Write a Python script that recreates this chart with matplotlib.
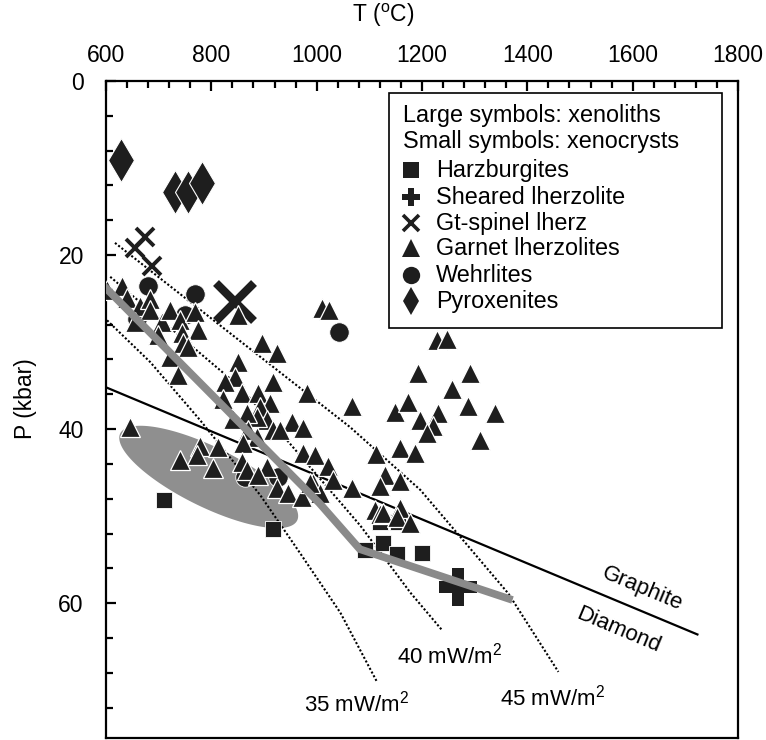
import numpy as np
import matplotlib
matplotlib.use('Agg')
import matplotlib.pyplot as plt
from matplotlib.patches import Rectangle

plt.rcParams['font.family'] = ['Liberation Sans', 'DejaVu Sans']
plt.rcParams['mathtext.fontset'] = 'custom'
plt.rcParams['mathtext.rm'] = 'Liberation Sans'
plt.rcParams['mathtext.it'] = 'Liberation Sans:italic'

# garnet lherzolites (T in C, P in kbar)
grt_T = [602, 630, 640, 665, 684, 684, 655, 706, 722, 741, 769, 775, 744, 746, 699, 756, 722, 737,
         851, 896, 925, 1010, 1024, 851, 845, 826, 917, 858, 822, 889, 912, 893, 982,
         953, 974, 906, 917, 931, 887, 868, 841, 870, 887, 860, 646, 779, 773, 813, 741,
         803, 858, 868, 906, 974, 997, 1022, 1067, 1149,
         1229, 1248, 1193, 1292, 1257, 1174, 1288, 1339, 1231, 1197, 1221, 1210, 1311, 1159, 1187, 1113,
         889, 925, 946, 972, 993, 1007, 1031, 1067, 1111, 1121, 1130, 1126, 1159, 1153, 1178, 1121, 1159, 988]
grt_P = [24.0, 23.5, 24.9, 25.8, 25.0, 26.3, 27.7, 27.7, 26.3, 27.5, 26.6, 28.6, 28.9, 30.1, 29.2, 30.6, 31.7, 33.8,
         26.9, 30.1, 31.3, 26.1, 26.3, 32.3, 34.0, 34.6, 34.6, 35.9, 36.5, 35.9, 37.0, 37.5, 35.9,
         39.2, 39.9, 39.0, 40.1, 40.1, 38.6, 38.1, 38.8, 40.1, 40.9, 41.6, 39.8, 41.9, 43.0, 42.1, 43.6,
         44.5, 43.8, 44.7, 44.4, 42.7, 43.0, 44.2, 37.3, 38.0,
         29.8, 29.6, 33.6, 33.5, 35.4, 36.9, 37.4, 38.2, 38.2, 38.9, 39.7, 40.5, 41.2, 42.2, 42.7, 42.9,
         45.3, 46.8, 47.4, 47.8, 46.2, 47.4, 45.8, 46.8, 49.3, 49.8, 45.3, 49.6, 49.1, 50.1, 50.8, 46.5, 46.0, 46.2]

harz_T = [710, 917, 1092, 1126, 1153, 1200, 1121, 1155]
harz_P = [48.1, 51.5, 53.9, 53.1, 54.3, 54.2, 50.7, 50.7]

wehr_T = [680, 769, 1043, 659, 750, 864, 927]
wehr_P = [23.5, 24.5, 28.8, 27.3, 26.9, 45.5, 45.5]

pyrox_T = [628, 731, 756, 782]
pyrox_P = [9.1, 12.7, 12.7, 11.7]

gtsp_small_T = [674, 655, 687]
gtsp_small_P = [17.9, 19.2, 21.3]
gtsp_large_T = [845]
gtsp_large_P = [25.4]

sheared_T = [1269]
sheared_P = [58.1]

# fitted geotherm (grey line)
fit_T = [600, 1005, 1082, 1365]
fit_P = [23.8, 48.5, 53.8, 59.5]

# graphite-diamond transition
gd_T = [600, 1723]
gd_P = [35.2, 63.6]

# model geotherms
g35_T = [602, 684, 779, 893, 969, 1045, 1115]
g35_P = [27.5, 32.3, 39.0, 47.6, 54.3, 61.1, 69.1]
g40_T = [608, 779, 855, 944, 1083, 1178, 1238]
g40_P = [22.5, 31.3, 35.2, 41.3, 51.1, 58.8, 63.1]
g45_T = [617, 836, 1064, 1197, 1273, 1364, 1459]
g45_P = [18.6, 29.0, 39.8, 47.0, 52.4, 58.9, 67.9]

# grey field (ellipse: centre and two conjugate half-axes)
ell_c = (795, 45.5)
ell_u = (168, 5.0)
ell_v = (-25, 3.1)

fig = plt.figure(figsize=(7.66, 7.40), dpi=100)
ax = fig.add_axes([0.1384, 0.0027, 0.825, 0.8878])

t = np.linspace(0, 2 * np.pi, 200)
ex = ell_c[0] + ell_u[0] * np.cos(t) + ell_v[0] * np.sin(t)
ey = ell_c[1] + ell_u[1] * np.cos(t) + ell_v[1] * np.sin(t)
ax.fill(ex, ey, color='#8f8f8f', lw=0, zorder=1)

dot = (0, (1, 1))
for gT, gP in [(g35_T, g35_P), (g40_T, g40_P), (g45_T, g45_P)]:
    ax.plot(gT, gP, color='k', lw=1.5, ls=dot, zorder=2)

ax.plot(gd_T, gd_P, color='k', lw=1.6, zorder=3)

ax.plot(wehr_T, wehr_P, 'o', color='#1e1e1e', ms=14, mec='white', mew=0.6, ls='none', zorder=3)
ax.plot(harz_T, harz_P, 's', color='#1e1e1e', ms=11, mec='white', mew=0.6, ls='none', zorder=3)
ax.plot(sheared_T, sheared_P, 'P', color='#1e1e1e', ms=28, mew=0, ls='none', zorder=3)

ax.plot(gtsp_small_T, gtsp_small_P, 'x', color='#1e1e1e', ms=13, mew=2.8, ls='none', zorder=4.5)
ax.plot(gtsp_large_T, gtsp_large_P, 'x', color='#1e1e1e', ms=27, mew=6, ls='none', zorder=4.5)

ax.plot(grt_T, grt_P, '^', color='#1e1e1e', ms=14, mec='white', mew=0.9, ls='none', zorder=5)
ax.plot(pyrox_T, pyrox_P, 'd', color='#1e1e1e', ms=22, mec='white', mew=0.8, ls='none', zorder=5)

ax.plot(fit_T, fit_P, color='#8a8a8a', lw=5.5, solid_joinstyle='miter', zorder=5.5)

# labels on the lines
ax.text(1075, 71.5, '35 mW/m$^2$', fontsize=16, ha='center', va='center')
ax.text(1252, 66.0, '40 mW/m$^2$', fontsize=16, ha='center', va='center')
ax.text(1449, 70.8, '45 mW/m$^2$', fontsize=16, ha='center', va='center')
ax.text(1618, 58.3, 'Graphite', fontsize=16, ha='center', va='center', rotation=-22.7)
ax.text(1573, 63.1, 'Diamond', fontsize=16, ha='center', va='center', rotation=-22.7)

ax.set_xlim(600, 1800)
ax.set_ylim(75.5, 0)
ax.xaxis.tick_top()
ax.set_xticks(range(600, 1801, 200))
ax.set_xticks(range(600, 1801, 40), minor=True)
ax.set_yticks([0, 20, 40, 60])
ax.set_yticks(range(0, 76, 4), minor=True)
ax.tick_params(axis='x', which='both', direction='in', top=True, bottom=False, labelsize=16.5, pad=10)
ax.tick_params(axis='y', which='both', direction='in', left=True, right=False, labelsize=16.5, pad=16)
ax.tick_params(which='major', length=7, width=1.6)
ax.tick_params(which='minor', length=5, width=1.6)
for s in ax.spines.values():
    s.set_linewidth(1.6)

ax.set_xlabel('T ($^{\\rm o}$C)', fontsize=16.5)
ax.xaxis.set_label_position('top')
ax.xaxis.set_label_coords(0.438, 1.10)
ax.xaxis.label.set_va('center')
ax.set_ylabel('P (kbar)', fontsize=16.5)
ax.yaxis.set_label_coords(-0.128, 0.517)
ax.yaxis.label.set_va('center')

# legend box
ax.add_patch(Rectangle((0.448, 0.624), 0.527, 0.3577, transform=ax.transAxes,
                       fill=True, fc='white', ec='k', lw=1.2, zorder=6))
rows = [0.9482, 0.9072, 0.8645, 0.8234, 0.7839, 0.7458, 0.7047, 0.6651]
ax.text(0.470, rows[0], 'Large symbols: xenoliths', transform=ax.transAxes,
        fontsize=16.8, va='center', zorder=7)
ax.text(0.470, rows[1], 'Small symbols: xenocrysts', transform=ax.transAxes,
        fontsize=16.8, va='center', zorder=7)
items = [('s', 12, 'Harzburgites'), ('P', 13, 'Sheared lherzolite'), ('x', 11, 'Gt-spinel lherz'),
         ('^', 13, 'Garnet lherzolites'), ('o', 12.5, 'Wehrlites'), ('d', 14, 'Pyroxenites')]
for (m, size, name), ry in zip(items, rows[2:]):
    kw = dict(mew=2.6) if m == 'x' else dict(mew=0)
    ax.plot([0.4826], [ry], m, color='#1e1e1e', ms=size, transform=ax.transAxes, zorder=7, **kw)
    ax.text(0.522, ry, name, transform=ax.transAxes, fontsize=16.8, va='center', zorder=7)

fig.savefig('out.png', dpi=100)
